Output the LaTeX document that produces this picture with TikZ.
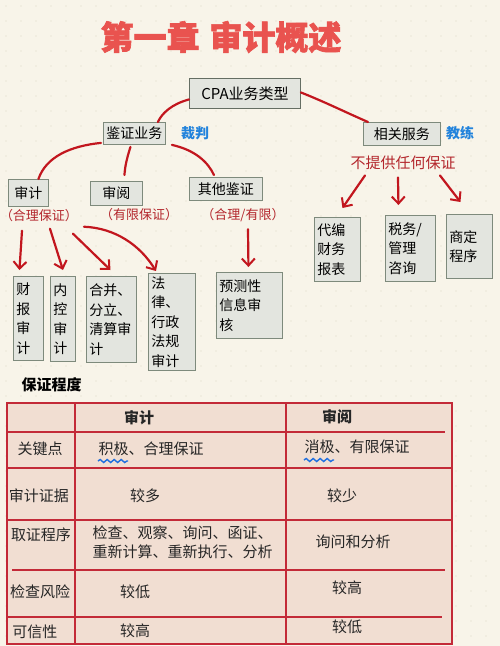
\documentclass[tikz,border=0pt]{standalone}
\usepackage{fontspec}
\setmainfont{Noto Sans CJK SC}
\usetikzlibrary{arrows.meta,decorations.pathmorphing}
\newcommand\fs[2]{\fontsize{#1pt}{#2pt}\selectfont}
\definecolor{bgc}{HTML}{F8F4E9}
\definecolor{dotc}{HTML}{DCD6C6}
\definecolor{boxfill}{HTML}{E3E5DF}
\definecolor{boxline}{HTML}{7E8A7C}
\definecolor{linkred}{HTML}{C2161E}
\definecolor{notered}{HTML}{B3262C}
\definecolor{titlered}{HTML}{E9534F}
\definecolor{teachblue}{HTML}{2283DC}
\definecolor{tabfill}{HTML}{F1DED2}
\definecolor{tabline}{HTML}{C32A38}
\definecolor{wavyblue}{HTML}{1F6FE0}
\tikzset{
  box/.style={draw=boxline, fill=boxfill, line width=0.9pt, inner xsep=3pt, inner ysep=2pt,
              font=\fs{14}{19.5}, anchor=north west, align=left},
  cbox/.style={draw=boxline, fill=boxfill, line width=0.9pt, inner sep=0pt,
              font=\fs{14}{18}, anchor=north west, align=center},
  link/.style={draw=linkred, line width=2.2pt, line cap=round},
  arr/.style={link, -{Straight Barb[length=7pt,width=13pt,line width=2pt]}},
  note/.style={text=notered, font=\fs{13}{17}},
  blue label/.style={text=teachblue, font=\fs{14}{18}\bfseries},
  cell/.style={font=\fs{15}{18}, text=black!85},
  tline/.style={draw=tabline, line width=1.2pt},
}
\begin{document}
\begin{tikzpicture}[x=1pt,y=-1pt]
\useasboundingbox (0,0) rectangle (500,646);
\fill[bgc] (0,0) rectangle (500,646);
\foreach \x in {6,21,...,500} \foreach \y in {6,21,...,646} \fill[dotc] (\x,\y) circle (0.7);

% title
\node[font=\fs{33}{33}\bfseries\addfontfeature{FakeBold=2}, text=titlered] (title) at (221,37) {第一章\hspace{0.3em}审计概述};

% top boxes
\node[cbox, minimum width=111pt, minimum height=30pt, font=\fs{15}{18}, draw=boxline!80!black] (cpa) at (189,78) {CPA业务类型};
\node[cbox, minimum width=62pt, minimum height=22pt] (jz) at (103,122) {鉴证业务};
\node[blue label] (cp) at (195,133) {裁判};
\node[cbox, minimum width=77pt, minimum height=23pt] (xg) at (363,122) {相关服务};
\node[blue label] (jl) at (460,133) {教练};
\node[note, font=\fs{15}{18}] (bt) at (403,163) {不提供任何保证};

% second level
\node[cbox, minimum width=40pt, minimum height=27pt] (sj) at (8,179) {审计};
\node[cbox, minimum width=52pt, minimum height=24pt] (sy) at (90,181) {审阅};
\node[cbox, minimum width=73pt, minimum height=23pt] (qt) at (189,177) {其他鉴证};
\node[note] (hl) at (39,216) {（合理保证）};
\node[note] (yx) at (139,215) {（有限保证）};
\node[note] (hy) at (243,215) {（合理/有限）};

% leaf boxes
\node[box, text width=24pt, minimum height=84pt] (cb) at (13,276) {财\\报\\审\\计};
\node[box, text width=19pt, minimum height=85pt] (nk) at (50,276) {内\\控\\审\\计};
\node[box, text width=44pt, minimum height=86pt] (hb) at (86,276) {合并、\\分立、\\清算审\\计};
\node[box, text width=41pt, minimum height=97pt] (fl) at (148,273) {法\\律、\\行政\\法规\\审计};
\node[box, text width=60pt, minimum height=66pt] (yc) at (216,272) {预测性\\信息审\\核};
\node[box, text width=40pt, minimum height=64pt] (db) at (314,217) {代编\\财务\\报表};
\node[box, text width=44pt, minimum height=66pt] (sw) at (385,215) {税务/\\管理\\咨询};
\node[box, text width=40pt, minimum height=64pt] (sd) at (446,214) {商定\\程序};

% connectors (no heads)
\draw[link] ([yshift=-6pt]cpa.west) .. controls (172,104) and (162,113) .. ([xshift=-8pt]jz.north east);
\draw[link] ([yshift=1pt]cpa.east) .. controls (325,102) and (345,112) .. ([xshift=5pt]xg.north west);
\draw[link] ([shift={(-2pt,2pt)}]jz.south west) .. controls (70,146) and (46,157) .. ([xshift=10pt]sj.north);
\draw[link] ([shift={(-4pt,-2pt)}]jz.south) .. controls (127,158) and (125,166) .. ([shift={(8pt,6pt)}]sy.north);
\draw[link] ([shift={(6pt,0pt)}]jz.south east) .. controls (195,150) and (208,162) .. ([shift={(-12pt,2pt)}]qt.north);

% arrows
\draw[arr] ([shift={(-17pt,-5pt)}]hl.south) -- ([shift={(-9pt,6pt)}]cb.north);
\draw[arr] ([shift={(11pt,-3pt)}]hl.south) -- ([shift={(0pt,6pt)}]nk.north);
\draw[arr] ([shift={(34pt,-8pt)}]hl.south) -- ([shift={(-1pt,6pt)}]hb.north);
\draw[arr] ([shift={(45pt,-1pt)}]hl.south) .. controls (115,228) and (140,245) .. ([shift={(-16pt,2pt)}]fl.north);
\draw[arr] ([shift={(5pt,-4pt)}]hy.south) -- ([shift={(-1pt,5pt)}]yc.north);
\draw[arr] ([shift={(-38pt,-2pt)}]bt.south) -- ([shift={(5pt,9pt)}]db.north);
\draw[arr] ([shift={(-5pt,-4pt)}]bt.south) -- ([shift={(-12pt,10pt)}]sw.north);
\draw[arr] ([shift={(37pt,-2pt)}]bt.south) -- ([shift={(-9pt,12pt)}]sd.north);

% table
\node[font=\fs{15}{18}\bfseries, anchor=west] (bz) at (18,385) {保证程度};
\fill[tabfill] (7,403) rectangle (452,644);
\draw[tline] (7,403) rectangle (452,644);
\draw[tline] (75,403) -- (75,644);
\draw[tline] (286,403) -- (286,644);
\draw[tline] (7,432) -- (445,432);
\draw[tline] (7,468) -- (452,468);
\draw[tline] (7,520) -- (452,520);
\draw[tline] (12,570) -- (445,570);
\draw[tline] (7,617) -- (442,617);

\node[cell, font=\fs{15}{18}\bfseries] (h1) at (139,418) {审计};
\node[cell, font=\fs{15}{18}\bfseries] (h2) at (337,417) {审阅};

\node[cell] (r1) at (40,449) {关键点};
\node[cell, anchor=west] (r1a) at (95,449) {积极、合理保证};
\node[cell, anchor=west] (r1b) at (301,447) {消极、有限保证};
\draw[wavyblue, line width=1.4pt, decorate, decoration={snake, amplitude=1.5pt, segment length=7pt}] (98,461) -- (128,461);
\draw[wavyblue, line width=1.4pt, decorate, decoration={snake, amplitude=1.5pt, segment length=7pt}] (304,460) -- (334,460);

\node[cell] (r2) at (39,496) {审计证据};
\node[cell] (r2a) at (145,496) {较多};
\node[cell] (r2b) at (342,496) {较少};

\node[cell] (r3) at (41,535) {取证程序};
\node[cell, anchor=north west, align=left, font=\fs{15}{19}] (r3a) at (89,522) {检查、观察、询问、函证、\\重新计算、重新执行、分析};
\node[cell] (r3b) at (353,542) {询问和分析};

\node[cell] (r4) at (40,592) {检查风险};
\node[cell] (r4a) at (135,592) {较低};
\node[cell] (r4b) at (347,588) {较高};

\node[cell] (r5) at (35,632) {可信性};
\node[cell] (r5a) at (135,631) {较高};
\node[cell] (r5b) at (347,627) {较低};
\end{tikzpicture}
\end{document}
